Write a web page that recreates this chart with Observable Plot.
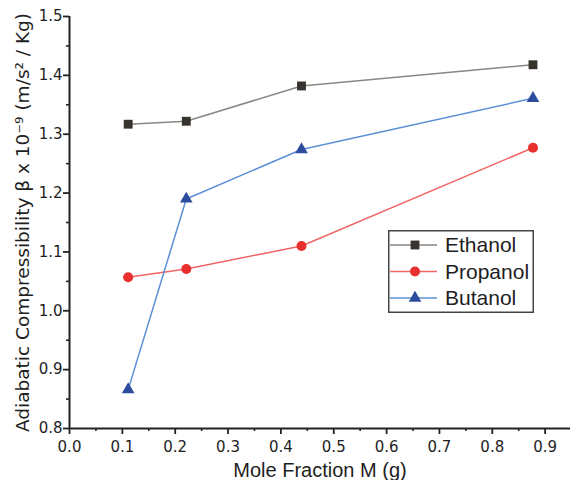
<!DOCTYPE html>
<html>
<head>
<meta charset="utf-8">
<script src="https://cdn.jsdelivr.net/npm/d3@7"></script>
<script src="https://cdn.jsdelivr.net/npm/@observablehq/plot@0.6"></script>
<style>
  html, body { margin: 0; padding: 0; background: #fff; }
  #wrap { position: relative; width: 570px; height: 480px; }
  #wrap svg text { fill: #1e1e1e; }
  g[aria-label="y-axis tick label"], g[aria-label="x-axis tick label"] { font-family: "DejaVu Sans", sans-serif; font-size: 15px; }
  g[aria-label="y-axis label"] { font-family: "DejaVu Sans", sans-serif; font-size: 18.5px; }
  g[aria-label="x-axis label"] { font-family: "Liberation Sans", Arial, sans-serif; font-size: 20px; }
  #legend { position: absolute; left: 388px; top: 230px; }
</style>
</head>
<body>
<div id="wrap"></div>
<script>
// ---- data ----
const moleFraction = [0.111, 0.221, 0.439, 0.877];
const ethanol  = [1.317, 1.322, 1.382, 1.418];
const propanol = [1.057, 1.071, 1.110, 1.277];
const butanol  = [0.866, 1.190, 1.274, 1.361];
const seriesNames = ["Ethanol", "Propanol", "Butanol"];
const xTicks = [0.0, 0.1, 0.2, 0.3, 0.4, 0.5, 0.6, 0.7, 0.8, 0.9];
const xMinorTicks = [0.05, 0.15, 0.25, 0.35, 0.45, 0.55, 0.65, 0.75, 0.85];
const yTicks = [0.8, 0.9, 1.0, 1.1, 1.2, 1.3, 1.4, 1.5];
const yMinorTicks = [0.85, 0.95, 1.05, 1.15, 1.25, 1.35, 1.45];
const xLabel = "Mole Fraction M (g)";
const yLabel = "Adiabatic Compressibility β x 10⁻⁹ (m/s² / Kg)";

const styles = {
  Ethanol:  {line: "#8c8580", marker: "#37332f", symbol: "square",   r: 5},
  Propanol: {line: "#f26666", marker: "#e8302e", symbol: "circle",   r: 5},
  Butanol:  {line: "#5b8fd8", marker: "#2d4c9e", symbol: "triangle", r: 4.7}
};
const values = {Ethanol: ethanol, Propanol: propanol, Butanol: butanol};
const rows = s => moleFraction.map((x, i) => ({x, y: values[s][i], series: s}));

const seriesMarks = seriesNames.flatMap(s => [
  Plot.line(rows(s), {x: "x", y: "y", stroke: styles[s].line, strokeWidth: 1.5}),
  Plot.dot(rows(s), {x: "x", y: "y", symbol: styles[s].symbol, r: styles[s].r, fill: styles[s].marker, stroke: "none"})
]);

const fmt = d3.format(".1f");
const chart = Plot.plot({
  width: 570, height: 480,
  marginLeft: 69, marginRight: 0, marginTop: 16, marginBottom: 52,
  x: {domain: [0, 0.948]},
  y: {domain: [0.8, 1.5]},
  marks: [
    Plot.axisX(xMinorTicks, {tickSize: 3, tickFormat: () => "", label: null, stroke: "#222", strokeWidth: 1.6}),
    Plot.axisY(yMinorTicks, {tickSize: 3, tickFormat: () => "", label: null, stroke: "#222", strokeWidth: 1.6}),
    Plot.axisX(xTicks, {tickSize: 6, tickPadding: 7, tickFormat: fmt, stroke: "#222", strokeWidth: 1.8,
      label: xLabel, labelAnchor: "center", labelArrow: "none", labelOffset: 48}),
    Plot.axisY(yTicks, {tickSize: 6, tickPadding: 1, tickFormat: fmt, stroke: "#222", strokeWidth: 1.8,
      label: yLabel, labelAnchor: "center", labelArrow: "none", labelOffset: 54}),
    Plot.ruleX([0], {stroke: "#222", strokeWidth: 2}),
    Plot.ruleY([0.8], {stroke: "#222", strokeWidth: 2}),
    ...seriesMarks
  ]
});
const wrap = document.getElementById("wrap");
wrap.appendChild(chart);

// ---- legend (inside the plot area, boxed) ----
const lw = 146, lh = 83;
const leg = d3.select(wrap).append("svg").attr("id", "legend")
  .attr("width", lw).attr("height", lh);
leg.append("rect").attr("x", 0.75).attr("y", 0.75).attr("width", lw - 1.5).attr("height", lh - 1.5)
  .attr("fill", "#fff").attr("stroke", "#444").attr("stroke-width", 1.5);
const symMap = {square: d3.symbolSquare, circle: d3.symbolCircle, triangle: d3.symbolTriangle};
seriesNames.forEach((s, i) => {
  const cy = 15 + i * 26.5;
  const g = leg.append("g").attr("transform", `translate(0,${cy})`);
  g.append("line").attr("x1", 2).attr("x2", 49).attr("y1", 0).attr("y2", 0)
    .attr("stroke", styles[s].line).attr("stroke-width", 1.5);
  const r = styles[s].r;
  g.append("path").attr("transform", "translate(27,0)")
    .attr("d", d3.symbol(symMap[styles[s].symbol], Math.PI * r * r)())
    .attr("fill", styles[s].marker);
  g.append("text").attr("x", 57).attr("y", 0).attr("dy", "0.35em")
    .attr("font-family", "Liberation Sans, Arial, sans-serif").attr("font-size", 21)
    .attr("fill", "#222").text(s);
});
</script>
</body>
</html>
